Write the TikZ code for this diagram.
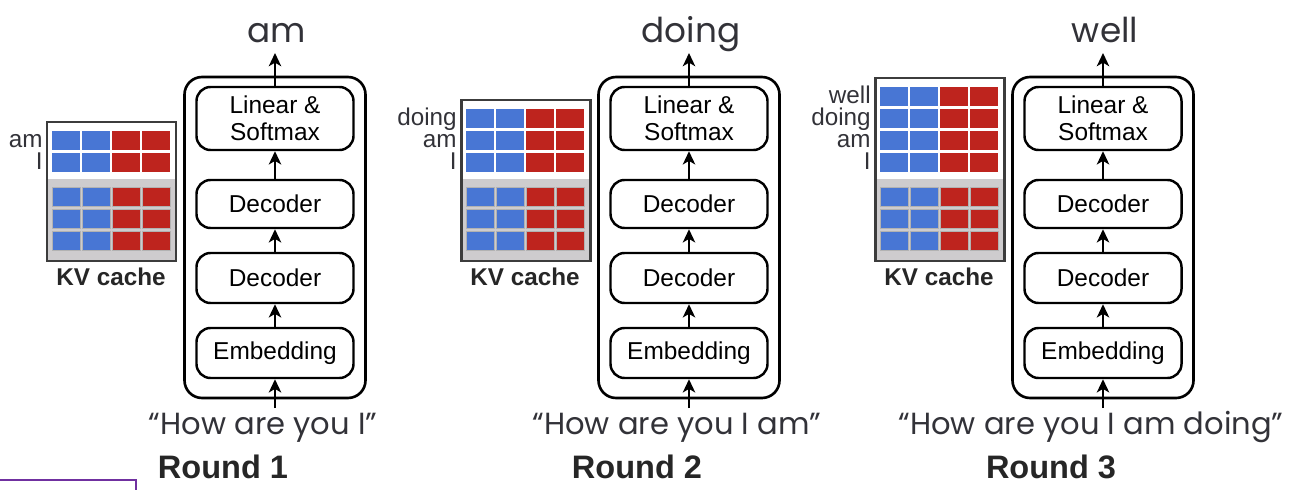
\documentclass[tikz,border=0pt]{standalone}
\usepackage{fontspec}
\setmainfont{Liberation Sans}
\newfontfamily\quotefont{Poppins}
\usetikzlibrary{arrows.meta}
\definecolor{kblue}{RGB}{72,118,212}
\definecolor{vred}{RGB}{190,36,30}
\definecolor{cachegray}{RGB}{206,204,206}
\definecolor{txtgray}{RGB}{50,50,56}
\definecolor{cacheline}{RGB}{60,60,60}
\definecolor{slideviolet}{RGB}{112,48,160}
\tikzset{
  blk/.style={draw,line width=1.4pt,rounded corners=8pt,minimum width=3.14cm,align=center,
    font=\fontsize{13.9}{15.4}\selectfont},
  tfbox/.style={draw,line width=1.5pt,rounded corners=10pt,minimum width=3.62cm,minimum height=6.42cm},
  flow/.style={-{Stealth[length=7.5pt,width=7pt,inset=2pt]},line width=1.5pt},
  outword/.style={font=\quotefont\fontsize{19.5}{22}\selectfont,text=txtgray,inner sep=0pt},
  prompttxt/.style={font=\quotefont\fontsize{17.4}{20}\selectfont,text=txtgray,inner sep=0pt},
  roundtxt/.style={font=\bfseries\fontsize{18.5}{22}\selectfont,text=black!85,inner sep=0pt},
  kvtxt/.style={font=\bfseries\fontsize{13.8}{16}\selectfont,text=black!85,inner sep=0pt},
  lbl/.style={font=\fontsize{13.8}{15}\selectfont,text=txtgray,inner sep=0pt},
  cacheframe/.style={draw=cacheline,line width=1.7pt}
}
\begin{document}
\begin{tikzpicture}[x=0.2mm,y=-0.2mm]
\useasboundingbox (0,0) rectangle (1298,490);
\foreach \rd/\cx/\word/\prompt/\n in {1/275/am/I/2,2/689/doing/I am/3,3/1103/well/I am doing/4}{
  \node[tfbox] (tf\rd) at (\cx,237.5) {};
  \node[blk,minimum height=1.26cm] (lin\rd) at (\cx,118.5) {Linear \&\\Softmax};
  \node[blk,minimum height=0.96cm] (deca\rd) at (\cx,204) {Decoder};
  \node[blk,minimum height=1cm] (decb\rd) at (\cx,278) {Decoder};
  \node[blk,minimum height=1cm] (emb\rd) at (\cx,353) {Embedding};
  \node[outword,anchor=base] (out\rd) at (\cx+2,43) {\word};
  \coordinate (tip\rd) at (\cx,53);
  \coordinate (in\rd) at (\cx,408);
  \node[prompttxt,anchor=base] (prompt\rd) at (\cx-12,434) {“How are you \prompt”};
  \node[roundtxt,anchor=base] (round\rd) at (\cx-52,478) {Round \rd};
  \draw[flow] (in\rd) -- (emb\rd);
  \draw[flow] (emb\rd) -- (decb\rd);
  \draw[flow] (decb\rd) -- (deca\rd);
  \draw[flow] (deca\rd) -- (lin\rd);
  \draw[flow] (lin\rd) -- (tip\rd);
  \pgfmathsetmacro{\kl}{\cx-228}
  \pgfmathsetmacro{\kt}{144-22*(\n-1)}
  \fill[cachegray] (\kl,179) rectangle (\kl+129,261);
  \foreach \col in {0,1,2,3}{
    \ifnum\col<2 \def\cc{kblue}\else\def\cc{vred}\fi
    \foreach \y in {187,209,231}
      \filldraw[fill=\cc,draw=gray!60,line width=0.4pt] (\kl+5+30*\col,\y) rectangle ++(28,19);
    \foreach \row in {1,...,\n}
      \fill[\cc] (\kl+5+30*\col,175-22*\row) rectangle ++(28,19);
  }
  \draw[cacheframe] (\kl,\kt) rectangle (\kl+129,261);
  \node[kvtxt,anchor=base] (kv\rd) at (\kl+64,285) {KV cache};
  \foreach \lab [count=\row] in {I,am,doing,well}{
    \ifnum\row>\n\else
      \node[lbl,anchor=base east] (lab\rd\row) at (\kl-4,191.5-22*\row) {\lab};
    \fi
  }
}
\draw[slideviolet,line width=1pt] (0,480) -- (136,480) -- (136,490);
\end{tikzpicture}
\end{document}
